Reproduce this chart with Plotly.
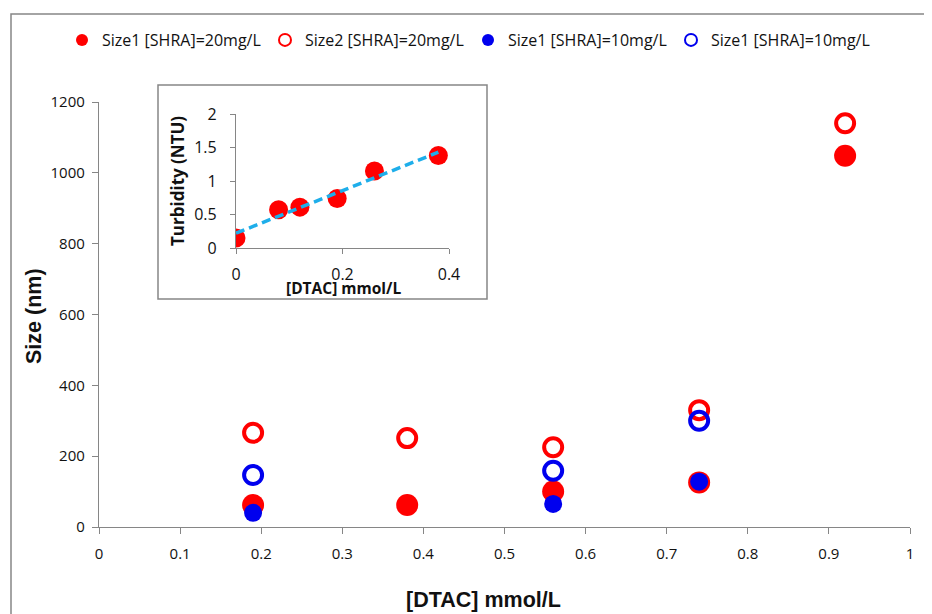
import numpy as np
import plotly.graph_objects as go

# ---- data ----
x_20 = [0.19, 0.38, 0.56, 0.74, 0.92]
size1_20 = [62, 62, 100, 126, 1048]
size2_20 = [266, 251, 225, 330, 1140]
x_10 = [0.19, 0.56, 0.74]
size1_10 = [40, 65, 128]
size2_10 = [147, 159, 300]

inset_x = [0, 0.08, 0.12, 0.19, 0.26, 0.38]
inset_turb = [0.15, 0.57, 0.61, 0.74, 1.15, 1.38]

names = ["Size1 [SHRA]=20mg/L", "Size2 [SHRA]=20mg/L",
         "Size1 [SHRA]=10mg/L", "Size1 [SHRA]=10mg/L"]

RED = "#ff0000"
BLUE = "#0000ee"
GRAY = "#868686"
TXT = "#111111"
TICKFONT = "Open Sans, Noto Sans, sans-serif"
TITLEFONT = "Liberation Sans, Arial, sans-serif"

# the page body has an 8px margin: work in window pixels and shift
OFF = 8
W, H = 932 - OFF, 614 - OFF
L, R, T, B = 99 - OFF, 22, 102 - OFF, 614 - 527
PW, PH = W - L - R, H - T - B


def px(xw):
    return (xw - OFF - L) / PW


def py(yw):
    return (H - B - (yw - OFF)) / PH


fig = go.Figure()
fig.add_trace(go.Scatter(x=x_20, y=size1_20, mode="markers", name=names[0],
                         marker=dict(symbol="circle", size=22, color=RED, line=dict(width=0))))
fig.add_trace(go.Scatter(x=x_20, y=size2_20, mode="markers", name=names[1],
                         marker=dict(symbol="circle-open", size=18, color=RED, line=dict(width=4, color=RED))))
fig.add_trace(go.Scatter(x=x_10, y=size1_10, mode="markers", name=names[2],
                         marker=dict(symbol="circle", size=18, color=BLUE, line=dict(width=0))))
fig.add_trace(go.Scatter(x=x_10, y=size2_10, mode="markers", name=names[3],
                         marker=dict(symbol="circle-open", size=18, color=BLUE, line=dict(width=4, color=BLUE))))

# inset
coef = np.polyfit(inset_x, inset_turb, 1)
trend_x = [min(inset_x), max(inset_x)]
trend_y = list(np.polyval(coef, trend_x))
fig.add_trace(go.Scatter(x=inset_x, y=inset_turb, mode="markers", showlegend=False,
                         xaxis="x2", yaxis="y2",
                         marker=dict(symbol="circle", size=19, color=RED)))
fig.add_trace(go.Scatter(x=trend_x, y=trend_y, mode="lines", showlegend=False,
                         xaxis="x2", yaxis="y2",
                         line=dict(color="#1eaeea", width=3.5, dash="9px,5px")))

fig.update_layout(
    width=W, height=H,
    margin=dict(l=L, r=R, t=T, b=B, autoexpand=False),
    paper_bgcolor="white", plot_bgcolor="white",
    font=dict(family=TICKFONT, size=15, color=TXT),
    showlegend=True,
    legend=dict(orientation="h", xref="container", yref="container",
                x=(62 - OFF) / W, y=1 - (40 - OFF) / H, xanchor="left", yanchor="middle",
                font=dict(size=16, family=TICKFONT, color=TXT),
                itemsizing="constant", itemwidth=30,
                entrywidth=158, entrywidthmode="pixels",
                bgcolor="rgba(0,0,0,0)"),
    xaxis=dict(range=[0, 1], dtick=0.1, tickformat="~g", showgrid=False, zeroline=False,
               showline=True, linecolor=GRAY, linewidth=1.3, ticks="outside",
               tickcolor=GRAY, ticklen=6, ticklabelstandoff=7,
               tickfont=dict(size=15, color=TXT)),
    yaxis=dict(range=[0, 1200], dtick=200, showgrid=False, zeroline=False,
               showline=True, linecolor=GRAY, linewidth=1.3, ticks="outside",
               tickcolor=GRAY, ticklen=6, ticklabelstandoff=4,
               tickfont=dict(size=15, color=TXT)),
    xaxis2=dict(domain=[px(236), px(449)], anchor="y2", range=[0, 0.4], dtick=0.2,
                tickformat="~g", showgrid=False, zeroline=False, showline=True,
                linecolor=GRAY, linewidth=1.3, ticks="outside", tickcolor=GRAY, ticklen=5,
                ticklabelstandoff=7, tickfont=dict(size=16, color=TXT)),
    yaxis2=dict(domain=[py(248), py(114)], anchor="x2", range=[0, 2], dtick=0.5,
                tickformat="~g", showgrid=False, zeroline=False, showline=True,
                linecolor=GRAY, linewidth=1.3, ticks="outside", tickcolor=GRAY, ticklen=5,
                ticklabelstandoff=10, tickfont=dict(size=16, color=TXT)),
    shapes=[
        dict(type="rect", xref="paper", yref="paper",
             x0=px(11), x1=px(945), y0=py(640), y1=py(14),
             line=dict(color=GRAY, width=1.5), fillcolor="rgba(0,0,0,0)", layer="below"),
        dict(type="rect", xref="paper", yref="paper",
             x0=px(158), x1=px(487), y0=py(299), y1=py(85),
             line=dict(color=GRAY, width=1.5), fillcolor="white", layer="below"),
    ],
    annotations=[
        dict(text="<b>[DTAC] mmol/L</b>", xref="paper", yref="paper", x=px(483), y=py(600),
             showarrow=False, xanchor="center", yanchor="middle",
             font=dict(family=TITLEFONT, size=21.5, color=TXT)),
        dict(text="<b>Size (nm)</b>", xref="paper", yref="paper", x=px(34), y=py(316),
             showarrow=False, xanchor="center", yanchor="middle", textangle=-90,
             font=dict(family=TITLEFONT, size=21.5, color=TXT)),
        dict(text="<b>[DTAC] mmol/L</b>", xref="paper", yref="paper", x=px(343), y=py(288),
             showarrow=False, xanchor="center", yanchor="middle",
             font=dict(family=TICKFONT, size=15.5, color=TXT)),
        dict(text="<b>Turbidity (NTU)</b>", xref="paper", yref="paper", x=px(177), y=py(181),
             showarrow=False, xanchor="center", yanchor="middle", textangle=-90,
             font=dict(family=TICKFONT, size=17, color=TXT)),
    ],
)

fig.write_html("out.html")
